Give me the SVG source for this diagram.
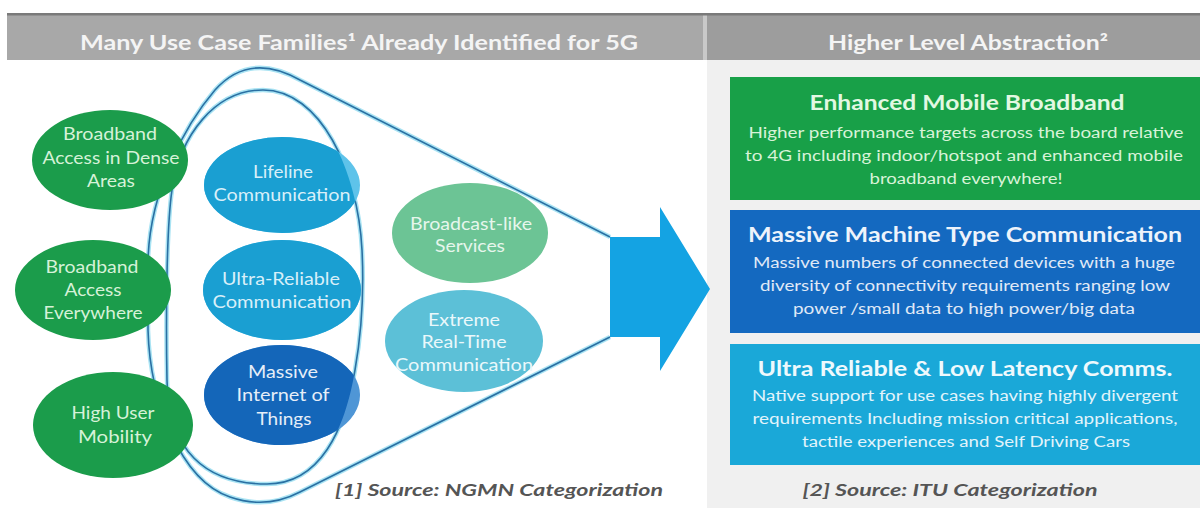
<svg xmlns="http://www.w3.org/2000/svg" width="1200" height="508" viewBox="0 0 1200 508">
  <defs>
    <style>
      text { font-family: Lato, "Open Sans", "Liberation Sans", sans-serif; text-anchor: middle; }
      .hdr { font-size: 21px; font-weight: bold; fill: #f4f4f4; }
      .ttl { font-size: 20px; font-weight: bold; }
      .bdy { font-size: 15.5px; }
      .el { font-size: 18px; }
      .src { font-size: 17px; font-weight: bold; font-style: italic; fill: #555555; }
      .g-txt { fill: #d6f2d8; }
      .b-txt { fill: #d8eff9; }
      .m-txt { fill: #e6eef8; }
      .lg-txt { fill: #e6f6ec; }
      .lc-txt { fill: #eaf8fb; }
      .halo { fill: none; stroke: #a9e3f3; stroke-width: 4.5; }
      .line { fill: none; stroke: #2a70a3; stroke-width: 1.6; }
    </style>
    <!-- region enclosed by the inner loop -->
    <clipPath id="innerLoop">
      <path d="M263,90 C215,90 180,135 172,190 C166,230 166,330 167,380 C168,450 205,484 267,484 C320,484 345,430 355,370 C362,330 364,290 362,250 C358,170 320,90 263,90 Z"/>
    </clipPath>
  </defs>

  <rect width="1200" height="508" fill="#ffffff"/>

  <!-- header bars -->
  <g id="header">
    <rect x="7" y="15" width="696" height="45" fill="#a8a8a8"/>
    <rect x="703" y="15" width="4" height="45" fill="#c9c9c9"/>
    <rect x="707" y="15" width="493" height="45" fill="#9d9d9d"/>
    <rect x="7" y="13" width="1193" height="2.5" fill="#7a7a7a"/>
    <text class="hdr" x="359" y="50" textLength="558" lengthAdjust="spacingAndGlyphs">Many Use Case Families¹ Already Identified for 5G</text>
    <text class="hdr" x="968" y="50" textLength="280" lengthAdjust="spacingAndGlyphs">Higher Level Abstraction²</text>
  </g>

  <!-- right panel background -->
  <rect x="707" y="60" width="493" height="448" fill="#f0f0f0"/>

  <!-- funnel outlines -->
  <g id="connectors">
    <path class="halo" d="M610,237 L300,80 C270,63 240,62 215,90 C185,125 150,190 148,260 L148,330 C150,400 180,480 230,497 C250,504 275,505 300,492 L610,337"/>
    <path class="halo" d="M263,90 C215,90 180,135 172,190 C166,230 166,330 167,380 C168,450 205,484 267,484 C320,484 345,430 355,370 C362,330 364,290 362,250 C358,170 320,90 263,90 Z"/>
    <path class="line" d="M610,237 L300,80 C270,63 240,62 215,90 C185,125 150,190 148,260 L148,330 C150,400 180,480 230,497 C250,504 275,505 300,492 L610,337"/>
    <path class="line" d="M263,90 C215,90 180,135 172,190 C166,230 166,330 167,380 C168,450 205,484 267,484 C320,484 345,430 355,370 C362,330 364,290 362,250 C358,170 320,90 263,90 Z"/>
  </g>

  <!-- arrow -->
  <g id="arrow">
    <polygon points="610,237 660,237 660,207 710,289 660,371 660,337 610,337" fill="#14a3e3"/>
  </g>

  <!-- use case families -->
  <g id="dense-areas">
    <ellipse cx="110" cy="160" rx="78" ry="50" fill="#1b9c4b"/>
    <text class="el g-txt" x="110" y="140" textLength="94" lengthAdjust="spacingAndGlyphs">Broadband</text>
    <text class="el g-txt" x="111" y="164" textLength="137" lengthAdjust="spacingAndGlyphs">Access in Dense</text>
    <text class="el g-txt" x="111" y="187" textLength="48" lengthAdjust="spacingAndGlyphs">Areas</text>
  </g>

  <g id="everywhere">
    <ellipse cx="93" cy="290" rx="78" ry="50" fill="#1b9c4b"/>
    <text class="el g-txt" x="92" y="273" textLength="93" lengthAdjust="spacingAndGlyphs">Broadband</text>
    <text class="el g-txt" x="93" y="296" textLength="57" lengthAdjust="spacingAndGlyphs">Access</text>
    <text class="el g-txt" x="93" y="319" textLength="99" lengthAdjust="spacingAndGlyphs">Everywhere</text>
  </g>

  <g id="high-mobility">
    <ellipse cx="113" cy="425" rx="80" ry="53" fill="#1b9c4b"/>
    <text class="el g-txt" x="113" y="419" textLength="83" lengthAdjust="spacingAndGlyphs">High User</text>
    <text class="el g-txt" x="115" y="443" textLength="74" lengthAdjust="spacingAndGlyphs">Mobility</text>
  </g>

  <g id="lifeline">
    <ellipse cx="282" cy="185" rx="78" ry="48" fill="#5ec3ea"/>
    <ellipse cx="282" cy="185" rx="78" ry="48" fill="#1a9fd2" clip-path="url(#innerLoop)"/>
    <text class="el b-txt" x="283" y="178" textLength="60" lengthAdjust="spacingAndGlyphs">Lifeline</text>
    <text class="el b-txt" x="282" y="201" textLength="137" lengthAdjust="spacingAndGlyphs">Communication</text>
  </g>

  <g id="ultra-reliable">
    <ellipse cx="282" cy="290" rx="79" ry="50" fill="#5ec3ea"/>
    <ellipse cx="282" cy="290" rx="79" ry="50" fill="#1a9fd2" clip-path="url(#innerLoop)"/>
    <text class="el b-txt" x="281" y="285" textLength="118" lengthAdjust="spacingAndGlyphs">Ultra-Reliable</text>
    <text class="el b-txt" x="282" y="308" textLength="139" lengthAdjust="spacingAndGlyphs">Communication</text>
  </g>

  <g id="massive-iot">
    <ellipse cx="282" cy="395" rx="78" ry="50" fill="#4f96d6"/>
    <ellipse cx="282" cy="395" rx="78" ry="50" fill="#1466b9" clip-path="url(#innerLoop)"/>
    <text class="el m-txt" x="283" y="378" textLength="70" lengthAdjust="spacingAndGlyphs">Massive</text>
    <text class="el m-txt" x="283" y="401" textLength="93" lengthAdjust="spacingAndGlyphs">Internet of</text>
    <text class="el m-txt" x="284" y="425" textLength="55" lengthAdjust="spacingAndGlyphs">Things</text>
  </g>

  <g id="broadcast">
    <ellipse cx="470" cy="233" rx="78" ry="50" fill="#6cc495"/>
    <text class="el lg-txt" x="471" y="230" textLength="122" lengthAdjust="spacingAndGlyphs">Broadcast-like</text>
    <text class="el lg-txt" x="470" y="252" textLength="70" lengthAdjust="spacingAndGlyphs">Services</text>
  </g>

  <g id="extreme-real-time">
    <ellipse cx="464" cy="341" rx="79" ry="51" fill="#5cc0d7"/>
    <text class="el lc-txt" x="464" y="326" textLength="72" lengthAdjust="spacingAndGlyphs">Extreme</text>
    <text class="el lc-txt" x="464" y="348" textLength="85" lengthAdjust="spacingAndGlyphs">Real-Time</text>
    <text class="el lc-txt" x="464" y="371" textLength="138" lengthAdjust="spacingAndGlyphs">Communication</text>
  </g>

  <text class="src" x="499" y="496" textLength="328" lengthAdjust="spacingAndGlyphs">[1] Source: NGMN Categorization</text>

  <!-- ITU categories -->
  <g id="embb">
    <rect x="730" y="77" width="470" height="123" fill="#18a048"/>
    <text class="ttl" x="967" y="110" fill="#e2f8e2" textLength="315" lengthAdjust="spacingAndGlyphs">Enhanced Mobile Broadband</text>
    <text class="bdy" x="966" y="138" fill="#d8f3d8" textLength="435" lengthAdjust="spacingAndGlyphs">Higher performance targets across the board relative</text>
    <text class="bdy" x="964" y="161" fill="#d8f3d8" textLength="438" lengthAdjust="spacingAndGlyphs">to 4G including indoor/hotspot  and enhanced mobile</text>
    <text class="bdy" x="966" y="184" fill="#d8f3d8" textLength="193" lengthAdjust="spacingAndGlyphs">broadband everywhere!</text>
  </g>

  <g id="mmtc">
    <rect x="730" y="210" width="470" height="123" fill="#1469c0"/>
    <text class="ttl" x="965" y="242" fill="#edf3fb" textLength="434" lengthAdjust="spacingAndGlyphs">Massive Machine Type Communication</text>
    <text class="bdy" x="964" y="268" fill="#e0eaf7" textLength="422" lengthAdjust="spacingAndGlyphs">Massive numbers of connected devices with a huge</text>
    <text class="bdy" x="965" y="291" fill="#e0eaf7" textLength="410" lengthAdjust="spacingAndGlyphs">diversity of connectivity requirements ranging low</text>
    <text class="bdy" x="964" y="314" fill="#e0eaf7" textLength="342" lengthAdjust="spacingAndGlyphs">power /small data to high power/big data</text>
  </g>

  <g id="urllc">
    <rect x="730" y="344" width="470" height="121" fill="#1aa8d8"/>
    <text class="ttl" x="965" y="376" fill="#eef9fd" textLength="415" lengthAdjust="spacingAndGlyphs">Ultra Reliable &amp; Low Latency Comms.</text>
    <text class="bdy" x="965" y="401" fill="#e2f4fb" textLength="426" lengthAdjust="spacingAndGlyphs">Native support for use cases having highly divergent</text>
    <text class="bdy" x="965" y="424" fill="#e2f4fb" textLength="425" lengthAdjust="spacingAndGlyphs">requirements Including mission critical applications,</text>
    <text class="bdy" x="966" y="447" fill="#e2f4fb" textLength="328" lengthAdjust="spacingAndGlyphs">tactile experiences and Self Driving Cars</text>
  </g>

  <text class="src" x="950" y="496" textLength="295" lengthAdjust="spacingAndGlyphs">[2] Source: ITU Categorization</text>
</svg>
